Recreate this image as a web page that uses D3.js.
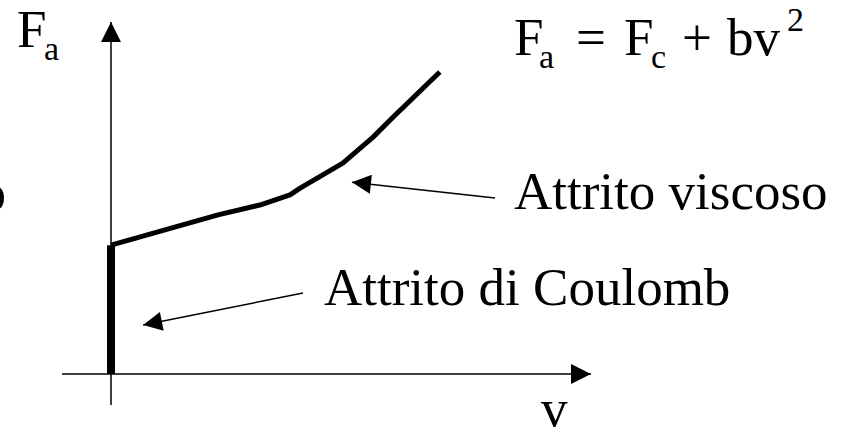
<!DOCTYPE html>
<html>
<head>
<meta charset="utf-8">
<script src="https://cdn.jsdelivr.net/npm/d3@7"></script>
<style>
  html, body { margin: 0; padding: 0; background: #fff; }
  svg { display: block; }
  text { font-family: "Liberation Serif", "Times New Roman", serif; fill: #000; }
</style>
</head>
<body>
<svg id="chart" width="841" height="429"></svg>
<script>
// Data (chart units: v from 0..100, Fa from 0..100)
const coulombV = [0, 0];
const coulombF = [0, 36.6];
const curveV = [0, 22.3, 31.0, 37.3, 39.4, 48.3, 54.6, 58.8, 68.5];
const curveF = [36.6, 45.2, 48.0, 50.9, 52.8, 59.9, 67.3, 73.0, 85.8];
const axisLabels = { y: "F", ySub: "a", x: "v" };
const annotations = ["Attrito viscoso", "Attrito di Coulomb", "Attrito statico"];
// pointer arrows: [from v, from F, to v, to F]
const viscosoArrow = [80.0, 50.0, 50.2, 54.5];
const coulombArrow = [40.0, 23.0, 6.7, 13.9];

const svg = d3.select("#chart");
const x = d3.scaleLinear().domain([0, 100]).range([111, 591]);
const y = d3.scaleLinear().domain([0, 100]).range([374, 22]);

// arrowhead markers
const defs = svg.append("defs");
defs.append("marker").attr("id", "bigHead")
  .attr("viewBox", "0 0 20 20").attr("refX", 20).attr("refY", 10)
  .attr("markerWidth", 20).attr("markerHeight", 20)
  .attr("markerUnits", "userSpaceOnUse").attr("orient", "auto")
  .append("path").attr("d", "M0,0 L20,10 L0,20 Z").attr("fill", "#000");
defs.append("marker").attr("id", "smallHead")
  .attr("viewBox", "0 0 20 20").attr("refX", 20).attr("refY", 10)
  .attr("markerWidth", 20).attr("markerHeight", 19)
  .attr("markerUnits", "userSpaceOnUse").attr("orient", "auto")
  .append("path").attr("d", "M0,0 L20,10 L0,20 Z").attr("fill", "#000");

// axes
svg.append("line")
  .attr("x1", x(0)).attr("y1", y(-8.8)).attr("x2", x(0)).attr("y2", y(100))
  .attr("stroke", "#000").attr("stroke-width", 1.5).attr("marker-end", "url(#bigHead)");
svg.append("line")
  .attr("x1", x(-10.2)).attr("y1", y(0)).attr("x2", x(100)).attr("y2", y(0))
  .attr("stroke", "#000").attr("stroke-width", 1.5).attr("marker-end", "url(#bigHead)");

// Coulomb vertical segment (thick)
const line = d3.line().x(d => x(d[0])).y(d => y(d[1]));
svg.append("path")
  .datum(coulombV.map((v, i) => [v, coulombF[i]]))
  .attr("d", line).attr("fill", "none").attr("stroke", "#000")
  .attr("stroke-width", 8).attr("stroke-linecap", "butt");

// viscous curve
svg.append("path")
  .datum(curveV.map((v, i) => [v, curveF[i]]))
  .attr("d", line).attr("fill", "none").attr("stroke", "#000")
  .attr("stroke-width", 5).attr("stroke-linejoin", "round").attr("stroke-linecap", "butt");

// pointer arrows
[viscosoArrow, coulombArrow].forEach(a => {
  svg.append("line")
    .attr("x1", x(a[0])).attr("y1", y(a[1])).attr("x2", x(a[2])).attr("y2", y(a[3]))
    .attr("stroke", "#000").attr("stroke-width", 1.5).attr("marker-end", "url(#smallHead)");
});

// labels
const fs = 53, sub = 34;
// y-axis label
const yl = svg.append("text").attr("x", 17).attr("y", 47).attr("font-size", fs);
yl.append("tspan").text(axisLabels.y);
yl.append("tspan").attr("x", 44).attr("y", 60).attr("font-size", sub).text(axisLabels.ySub);

// x-axis label
svg.append("text").attr("x", 541).attr("y", 426).attr("font-size", fs).text(axisLabels.x);

// formula
const f = svg.append("text").attr("font-size", fs);
f.append("tspan").attr("x", 514).attr("y", 55).text("F");
f.append("tspan").attr("x", 539).attr("y", 68).attr("font-size", sub).text("a");
f.append("tspan").attr("x", 576).attr("y", 55).text("=");
f.append("tspan").attr("x", 624).attr("y", 55).text("F");
f.append("tspan").attr("x", 651).attr("y", 68).attr("font-size", sub).text("c");
f.append("tspan").attr("x", 682).attr("y", 55).text("+");
f.append("tspan").attr("x", 727).attr("y", 55).text("bv");
f.append("tspan").attr("x", 787).attr("y", 31).attr("font-size", sub).text("2");

// annotations
svg.append("text").attr("x", 514).attr("y", 209).attr("font-size", fs).text(annotations[0]);
svg.append("text").attr("x", 324).attr("y", 305).attr("font-size", fs).text(annotations[1]);
svg.append("text").attr("x", 6).attr("y", 210).attr("font-size", fs)
  .attr("text-anchor", "end").text(annotations[2]);
</script>
</body>
</html>
